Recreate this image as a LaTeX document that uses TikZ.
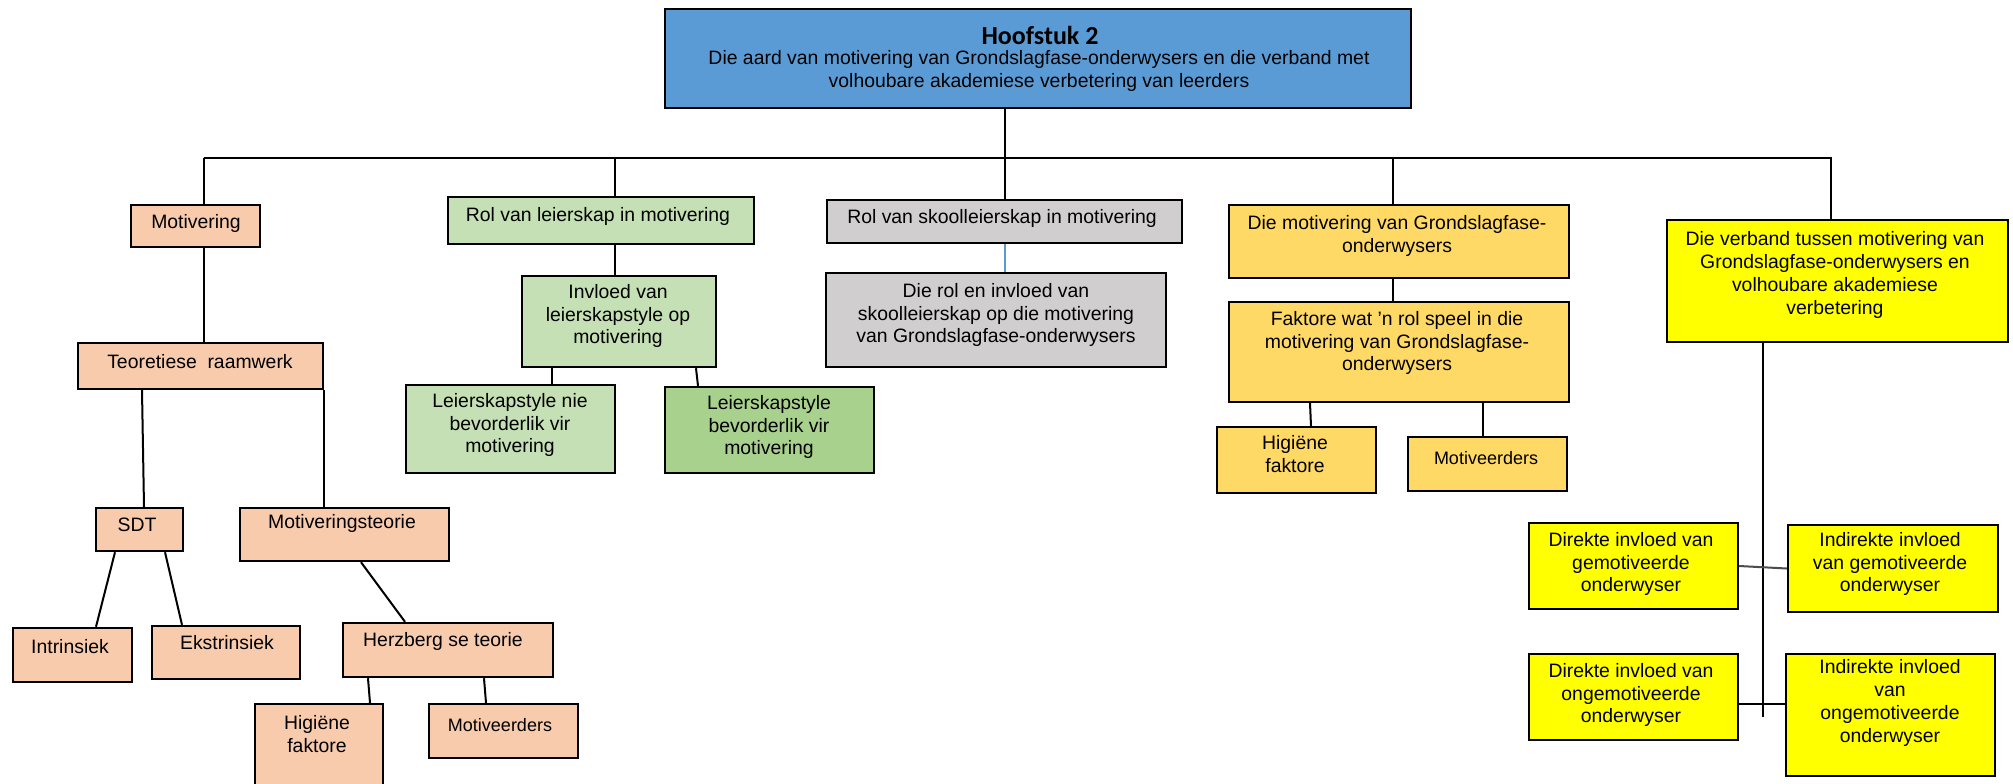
\documentclass[tikz,border=0pt]{standalone}
\usepackage{fontspec}
\setmainfont{Liberation Sans}
\newfontfamily\titlefont{Carlito}
\usetikzlibrary{fit}
\definecolor{topblue}{HTML}{5B9BD5}
\definecolor{peach}{HTML}{F8CBAD}
\definecolor{lgreen}{HTML}{C5E0B4}
\definecolor{dgreen}{HTML}{A9D18E}
\definecolor{lgrey}{HTML}{D0CECE}
\definecolor{gold}{HTML}{FFD966}
\definecolor{yel}{HTML}{FFFF00}
\begin{document}
\begin{tikzpicture}[x=0.5pt,y=-0.5pt,
  box/.style={draw=black, line width=1.2pt, inner sep=0pt},
  txt/.style={align=center, inner sep=0pt, font=\fontsize{9.7}{11.4}\selectfont},
  stxt/.style={align=center, inner sep=0pt, font=\fontsize{9}{11}\selectfont},
  con/.style={line width=1pt, draw=black}]
\useasboundingbox[fill=white] (0,0) rectangle (2013,783);

% ---- boxes ----
\node[box, fill=topblue, fit={(665,9) (1411,108)}] (top) {};
\node[box, fill=peach, fit={(131,205) (260,247)}] (mot) {};
\node[box, fill=peach, fit={(78,343) (323,389)}] (teo) {};
\node[box, fill=peach, fit={(96,508) (183,551)}] (sdt) {};
\node[box, fill=peach, fit={(240,508) (449,561)}] (mth) {};
\node[box, fill=peach, fit={(13,628) (132,682)}] (intr) {};
\node[box, fill=peach, fit={(152,626) (300,679)}] (eks) {};
\node[box, fill=peach, fit={(343,623) (553,677)}] (herz) {};
\node[box, fill=peach, fit={(255,704) (383,800)}] (higa) {};
\node[box, fill=peach, fit={(429,704) (578,758)}] (mota) {};

\node[box, fill=lgreen, fit={(448,197) (754,244)}] (rl) {};
\node[box, fill=lgreen, fit={(522,276) (716,367)}] (inv) {};
\node[box, fill=lgreen, fit={(406,385) (615,473)}] (lnie) {};
\node[box, fill=dgreen, fit={(665,387) (874,473)}] (lbev) {};

\node[box, fill=lgrey, fit={(827,200) (1182,243)}] (skl) {};
\node[box, fill=lgrey, fit={(826,273) (1166,367)}] (drol) {};

\node[box, fill=gold, fit={(1229,205) (1569,278)}] (dmot) {};
\node[box, fill=gold, fit={(1229,302) (1569,402)}] (fak) {};
\node[box, fill=gold, fit={(1217,427) (1376,493)}] (higb) {};
\node[box, fill=gold, fit={(1408,437) (1567,491)}] (motb) {};

\node[box, fill=yel, fit={(1667,220) (2008,342)}] (ver) {};
\node[box, fill=yel, fit={(1529,523) (1738,609)}] (dg) {};
\node[box, fill=yel, fit={(1788,525) (1998,612)}] (ig) {};
\node[box, fill=yel, fit={(1529,654) (1738,740)}] (du) {};
\node[box, fill=yel, fit={(1786,654) (1995,776)}] (iu) {};

% ---- texts ----
\node[inner sep=0pt, font=\titlefont\bfseries\fontsize{13}{15}\selectfont] (t-top1) at (1040,35) {Hoofstuk 2};
\node[txt] (t-top2) at (1039,71) {Die aard van motivering van Grondslagfase-onderwysers en die verband met\\volhoubare akademiese verbetering van leerders};
\node[txt] (t-mot) at (196,223) {Motivering};
\node[txt] (t-teo) at (200,362) {Teoretiese\ \ raamwerk};
\node[txt] (t-sdt) at (137,525) {SDT};
\node[txt] (t-mth) at (342,523) {Motiveringsteorie};
\node[txt] (t-intr) at (70,647) {Intrinsiek};
\node[txt] (t-eks) at (227,643) {Ekstrinsiek};
\node[txt] (t-herz) at (443,641) {Herzberg se teorie};
\node[txt] (t-higa) at (317,734) {Higiëne\\faktore};
\node[stxt] (t-mota) at (500,725) {Motiveerders};

\node[txt] (t-rl) at (598,216) {Rol van leierskap in motivering};
\node[txt] (t-inv) at (618,316) {Invloed van\\leierskapstyle op\\motivering};
\node[txt] (t-lnie) at (510,425) {Leierskapstyle nie\\bevorderlik vir\\motivering};
\node[txt] (t-lbev) at (769,427) {Leierskapstyle\\bevorderlik vir\\motivering};

\node[txt] (t-skl) at (1002,218) {Rol van skoolleierskap in motivering};
\node[txt] (t-drol) at (996,315) {Die rol en invloed van\\skoolleierskap op die motivering\\van Grondslagfase-onderwysers};

\node[txt] (t-dmot) at (1397,236) {Die motivering van Grondslagfase-\\onderwysers};
\node[txt] (t-fak) at (1397,343) {Faktore wat ’n rol speel in die\\motivering van Grondslagfase-\\onderwysers};
\node[txt] (t-higb) at (1295,454) {Higiëne\\faktore};
\node[stxt] (t-motb) at (1486,458) {Motiveerders};

\node[txt] (t-ver) at (1835,275) {Die verband tussen motivering van\\Grondslagfase-onderwysers en\\volhoubare akademiese\\verbetering};
\node[txt] (t-dg) at (1631,564) {Direkte invloed van\\gemotiveerde\\onderwyser};
\node[txt] (t-ig) at (1890,564) {Indirekte invloed\\van gemotiveerde\\onderwyser};
\node[txt] (t-du) at (1631,695) {Direkte invloed van\\ongemotiveerde\\onderwyser};
\node[txt] (t-iu) at (1890,703) {Indirekte invloed\\van\\ongemotiveerde\\onderwyser};

% ---- connectors ----
\coordinate (busL) at (204,158);
\coordinate (trunkEnd) at (1763,717);
\draw[con] (busL) -- ([xshift=-3.25pt]ver.north |- busL) -- ([xshift=-3.25pt]ver.north);
\draw[con] (skl.north |- top.south) -- (skl.north);
\draw[con] (busL) -- (busL |- mot.north);
\draw[con] (busL |- mot.south) -- (busL |- teo.north);
\draw[con] ([xshift=7pt]rl.north |- busL) -- ([xshift=7pt]rl.north);
\draw[con] ([xshift=7pt]rl.south) -- ([xshift=7pt]rl.south |- inv.north);
\draw[con] ([xshift=-33.5pt]inv.south) -- ([xshift=-33.5pt]inv.south |- lnie.north);
\draw[con] ([xshift=38.5pt]inv.south) -- ([xshift=-35.75pt]lbev.north);
\draw[line width=1pt, topblue] (skl.south) -- (skl.south |- drol.north);
\draw[con] ([xshift=-3pt]dmot.north |- busL) -- ([xshift=-3pt]dmot.north);
\draw[con] ([xshift=-3pt]dmot.south) -- ([xshift=-3pt]dmot.south |- fak.north);
\draw[con] ([xshift=-44.5pt]fak.south) -- ([xshift=7.25pt]higb.north);
\draw[con] ([xshift=42pt]fak.south) -- ([xshift=-2.25pt]motb.north);
\draw[con] ([xshift=-37.25pt]ver.south) -- (trunkEnd);
\draw[con, draw=black!70] (dg.east) -- (ig.west);
\draw[con] ([yshift=-3.5pt]du.east) -- ([yshift=-3.5pt]du.east -| iu.west);

\draw[con] ([xshift=-29.25pt]teo.south) -- ([xshift=2.25pt]sdt.north);
\draw[con] (teo.south east) -- (teo.south east |- mth.north);
\draw[con] ([xshift=-12.25pt]sdt.south) -- ([xshift=11.75pt]intr.north);
\draw[con] ([xshift=12.75pt]sdt.south) -- ([xshift=-22pt]eks.north);
\draw[con] ([xshift=8.25pt]mth.south) -- ([xshift=-21.5pt]herz.north);
\draw[con] ([xshift=-40pt]herz.south) -- ([xshift=25.5pt]higa.north);
\draw[con] ([xshift=18pt]herz.south) -- ([xshift=-8.75pt]mota.north);
\end{tikzpicture}
\end{document}
